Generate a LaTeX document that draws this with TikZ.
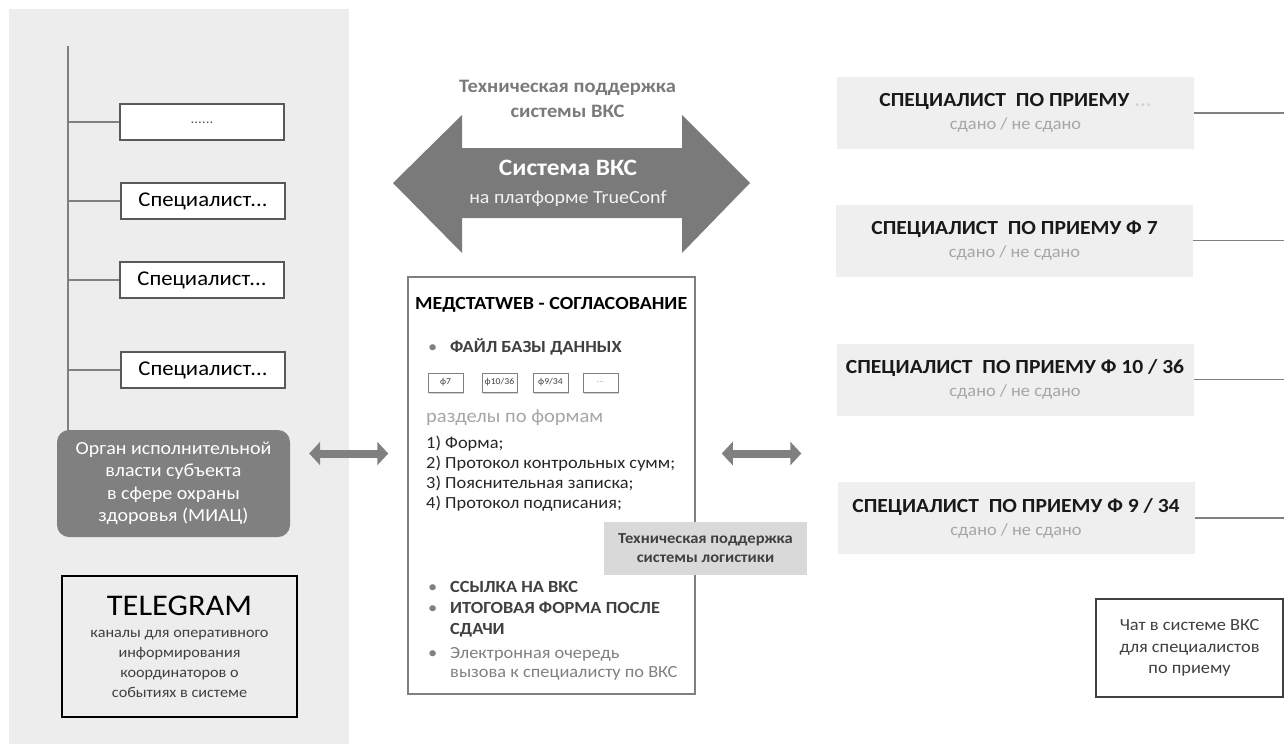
\documentclass[tikz,border=0pt]{standalone}
\usepackage{fontspec}
\setmainfont{Carlito}[FakeStretch=1.08]
\usepackage{tikz}
\usetikzlibrary{arrows.meta,shadows}

\definecolor{panelgray}{HTML}{EDEDED}
\definecolor{darkfill}{HTML}{7A7A7A}
\definecolor{linegray}{HTML}{808080}
\definecolor{boxline}{HTML}{595959}
\definecolor{specfill}{HTML}{EFEFEF}
\definecolor{subgray}{HTML}{A6A6A6}
\definecolor{logfill}{HTML}{D9D9D9}
\definecolor{inkgray}{HTML}{404040}
\definecolor{faintgray}{HTML}{D4D4D4}

\begin{document}
\begin{tikzpicture}[x=1pt, y=-1pt,
        leftbox/.style={draw=boxline, line width=1.5, fill=white, minimum width=164, minimum height=36, inner sep=0, font=\fontsize{21}{22}\selectfont},
        specbox/.style={fill=specfill, minimum width=357, minimum height=72, inner sep=0, align=center, text=subgray, font=\fontsize{17}{23}\selectfont},
        formbox/.style={draw=linegray, line width=1, fill=white, minimum width=35, minimum height=19, inner sep=0, text=inkgray, font=\fontsize{9}{10}\selectfont, drop shadow={shadow xshift=1pt, shadow yshift=-1.5pt, opacity=0.35}},
        txtline/.style={anchor=base west, inner sep=0, text=black!85, font=\fontsize{17}{20}\selectfont},
        link/.style={draw=linegray, line width=8, {Triangle[length=11pt, width=23pt]}-{Triangle[length=11pt, width=23pt]}},
        branch/.style={draw=linegray, line width=1.5}]
        \useasboundingbox (0,0) rectangle (1284,744);
        \fill[panelgray] (9,9) rectangle (349,744);

        % left column
        \coordinate (trunk) at (68,46);
        \node[leftbox] (sp0) at (202,122) {\textcolor{boxline}{\fontsize{14}{14}\selectfont\raisebox{-4pt}{......}}};
        \node[leftbox] (sp1) at (203,201) {Специалист...};
        \node[leftbox] (sp2) at (202,280) {Специалист...};
        \node[leftbox] (sp3) at (203,370) {Специалист...};
        \node[fill=linegray, rounded corners=12, minimum width=233, minimum height=107, inner sep=0, align=center, text=white, font=\fontsize{18.5}{22.5}\selectfont] (miac) at (173.5,483.5) {Орган исполнительной\\власти субъекта\\в сфере охраны\\здоровья (МИАЦ)};
        \node[draw=black, line width=1.8, fill=panelgray, minimum width=235, minimum height=141, inner sep=0, align=center, text=inkgray, font=\fontsize{15}{20}\selectfont] (tg) at (179.5,646.5) {{\fontsize{30}{30}\selectfont\color{black}TELEGRAM}\\[2pt]каналы для оперативного\\информирования\\координаторов о\\событиях в системе};

        \draw[branch, line width=2] (trunk) -- ([yshift=-4pt]trunk |- miac.north);
        \foreach \b in {sp0,sp1,sp2,sp3}
            \draw[branch] (trunk |- \b.west) -- (\b.west);

        % VKS arrow
        \node[align=center, text=darkfill, font=\bfseries\fontsize{19}{25}\selectfont] (techvks) at (567.5,99) {Техническая поддержка\\системы ВКС};
        \fill[darkfill] (393,183) -- (462,115) -- (462,148) -- (682,148) -- (682,115) -- (750,183) -- (682,253) -- (682,218) -- (462,218) -- (462,253) -- cycle;
        \node[anchor=base, inner sep=0, text=white, font=\bfseries\fontsize{23.5}{25}\selectfont] (sysname) at (568,175) {Система ВКС};
        \node[anchor=base, inner sep=0, text=white!95!black, font=\fontsize{18.5}{22}\selectfont] (platform) at (568,203) {на платформе TrueConf};

        % medstatweb
        \node[draw=linegray, line width=1.5, fill=white, minimum width=287, minimum height=417, inner sep=0] (medstat) at (551.5,485.5) {};
        \node[txtline, text=black, font=\bfseries\fontsize{18.5}{20}\selectfont] (title) at (415,309) {МЕДСТАТWEB - СОГЛАСОВАНИЕ};
        \node[txtline, text=linegray] (b1) at (428,352) {•};
        \node[txtline, text=inkgray, font=\bfseries\fontsize{17}{20}\selectfont] (file) at (450,352) {ФАЙЛ БАЗЫ ДАННЫХ};
        \node[formbox] (f7) at (445.5,382.5) {ф7};
        \node[formbox] (f10) at (499.5,382.5) {ф10/36};
        \node[formbox] (f9) at (550.5,382.5) {ф9/34};
        \node[formbox, text=subgray] (fx) at (600.5,382.5) {...};
        \node[txtline, text=subgray, font=\fontsize{19}{24}\selectfont] (sect) at (426,422) {разделы по формам};
        \node[txtline] (s1) at (426,448) {1) Форма;};
        \node[txtline] (s2) at (426,468) {2) Протокол контрольных сумм;};
        \node[txtline] (s3) at (426,488) {3) Пояснительная записка;};
        \node[txtline] (s4) at (426,508) {4) Протокол подписания;};
        \node[fill=logfill, minimum width=203, minimum height=53, inner sep=0, align=center, text=inkgray, font=\bfseries\fontsize{15.3}{19}\selectfont] (logist) at (705.5,548.5) {Техническая поддержка\\системы логистики};
        \node[txtline, text=linegray] (b2) at (428,592) {•};
        \node[txtline, text=inkgray, font=\bfseries\fontsize{17}{20}\selectfont] (link) at (450,592) {ССЫЛКА НА ВКС};
        \node[txtline, text=linegray] (b3) at (428,613) {•};
        \node[txtline, text=inkgray, font=\bfseries\fontsize{17}{20}\selectfont] (final1) at (450,613) {ИТОГОВАЯ ФОРМА ПОСЛЕ};
        \node[txtline, text=inkgray, font=\bfseries\fontsize{17}{20}\selectfont] (final2) at (450,634) {СДАЧИ};
        \node[txtline, text=linegray] (b4) at (428,658) {•};
        \node[txtline, text=linegray] (queue1) at (450,658) {Электронная очередь};
        \node[txtline, text=linegray] (queue2) at (450,677) {вызова к специалисту по ВКС};

        % right column
        \coordinate (rim) at (1284,0);
        \node[specbox] (spec1) at (1015.5,113) {{\color{black!90}\bfseries\fontsize{20}{23}\selectfont СПЕЦИАЛИСТ\ \ ПО ПРИЕМУ \textcolor{faintgray}{...}}\\сдано / не сдано};
        \node[specbox] (spec2) at (1014.5,240.5) {{\color{black!90}\bfseries\fontsize{20}{23}\selectfont СПЕЦИАЛИСТ\ \ ПО ПРИЕМУ Ф 7}\\сдано / не сдано};
        \node[specbox] (spec3) at (1015,379.5) {{\color{black!90}\bfseries\fontsize{20}{23}\selectfont СПЕЦИАЛИСТ\ \ ПО ПРИЕМУ Ф 10 / 36}\\сдано / не сдано};
        \node[specbox] (spec4) at (1016,518) {{\color{black!90}\bfseries\fontsize{20}{23}\selectfont СПЕЦИАЛИСТ\ \ ПО ПРИЕМУ Ф 9 / 34}\\сдано / не сдано};
        \foreach \s in {spec1,spec2,spec3,spec4}
            \draw[branch] (\s.east) -- (\s.east -| rim);
        \node[draw=inkgray, line width=1.8, minimum width=187, minimum height=98, inner sep=0, align=center, text=inkgray, font=\fontsize{17}{21.5}\selectfont] (chat) at (1189.5,648) {Чат в системе ВКС\\для специалистов\\по приему};

        % links
        \coordinate (linky) at (0,453.5);
        \draw[link, shorten <=19, shorten >=19] (miac.east |- linky) -- (medstat.west |- linky);
        \draw[link, shorten <=26, shorten >=35] (medstat.east |- linky) -- (spec3.west |- linky);
\end{tikzpicture}
\end{document}
